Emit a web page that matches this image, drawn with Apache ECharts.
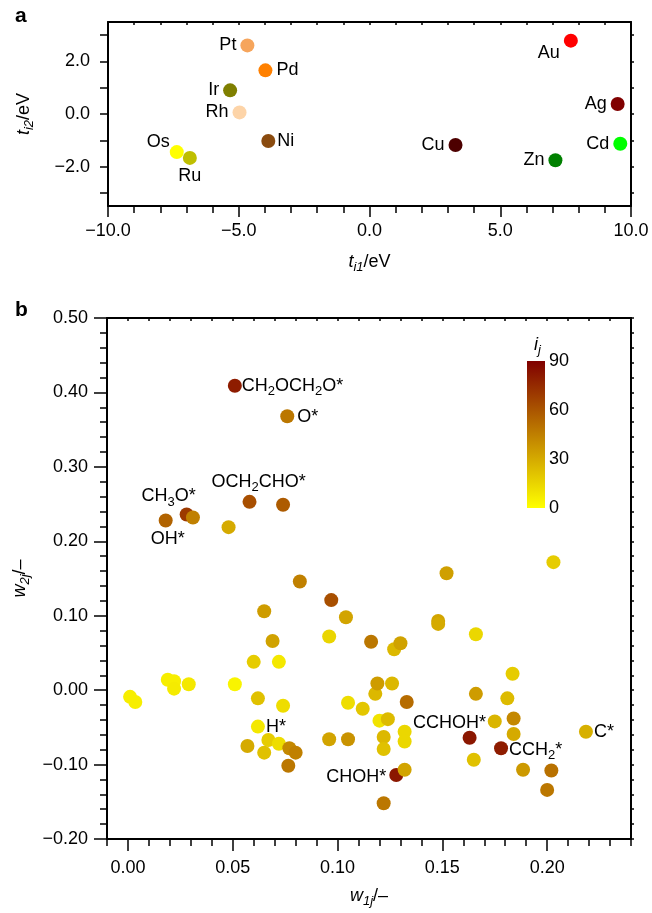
<!DOCTYPE html>
<html>
<head>
<meta charset="utf-8">
<title>t / w scatter</title>
<script src="https://cdn.jsdelivr.net/npm/echarts@6/dist/echarts.min.js"></script>
<style>
  html, body { margin: 0; padding: 0; background: #fff; }
  #main { width: 652px; height: 913px; }
</style>
</head>
<body>
<div id="main"></div>
<script>
  // ---- panel a : metals ----
  var metals = ['Pt', 'Pd', 'Ir', 'Rh', 'Ni', 'Os', 'Ru', 'Cu', 'Au', 'Ag', 'Cd', 'Zn'];
  var tI1 = [-4.67, -3.98, -5.33, -4.97, -3.87, -7.37, -6.87, 3.29, 7.70, 9.49, 9.59, 7.11];
  var tI2 = [2.61, 1.66, 0.90, 0.06, -1.03, -1.45, -1.67, -1.18, 2.79, 0.38, -1.13, -1.76];
  var metalColors = ['#f6a55c', '#ff8000', '#7f7f00', '#fdd4a8', '#8a4b0f', '#ffff00',
    '#bfbf00', '#4d0000', '#ff0000', '#800000', '#00ff00', '#008000'];

  // ---- panel b : adsorbates ----
  var w1 = [0.051, 0.076, 0.058, 0.074, 0.028, 0.031, 0.018, 0.048, 0.082, 0.097,
    0.065, 0.104, 0.096, 0.069, 0.116, 0.127, 0.130, 0.060, 0.072, 0.019,
    0.022, 0.022, 0.029, 0.051, 0.001, 0.0035, 0.062, 0.074, 0.105, 0.112,
    0.118, 0.119, 0.126, 0.120, 0.124, 0.062, 0.067, 0.072, 0.057, 0.065,
    0.077, 0.080, 0.0765, 0.096, 0.105, 0.122, 0.122, 0.128, 0.132, 0.122,
    0.203, 0.152, 0.148, 0.148, 0.166, 0.1835, 0.166, 0.181, 0.133, 0.132,
    0.132, 0.175, 0.184, 0.184, 0.163, 0.178, 0.165, 0.2185, 0.1885, 0.202, 0.200];
  var w2 = [0.409, 0.368, 0.253, 0.249, 0.236, 0.232, 0.228, 0.219, 0.146, 0.121,
    0.106, 0.098, 0.072, 0.066, 0.065, 0.055, 0.063, 0.038, 0.038, 0.014,
    0.012, 0.002, 0.008, 0.008, -0.009, -0.016, -0.011, -0.021, -0.017, -0.025,
    -0.005, 0.009, 0.009, -0.041, -0.039, -0.049, -0.067, -0.072, -0.075, -0.084,
    -0.078, -0.084, -0.1015, -0.066, -0.066, -0.063, -0.079, -0.114, -0.107, -0.152,
    0.172, 0.157, 0.093, 0.089, 0.075, 0.022, -0.005, -0.011, -0.016, -0.056,
    -0.069, -0.042, -0.038, -0.059, -0.064, -0.078, -0.0935, -0.056, -0.107, -0.108, -0.134];
  var ij = [80, 48, 62, 58, 70, 45, 55, 30, 45, 62,
    35, 32, 15, 33, 48, 25, 33, 18, 8, 6,
    6, 7, 8, 4, 6, 6, 22, 12, 12, 20,
    25, 35, 25, 10, 24, 8, 18, 12, 30, 22,
    42, 45, 48, 32, 38, 25, 22, 82, 32, 48,
    18, 34, 32, 30, 14, 18, 35, 24, 52, 14,
    14, 26, 42, 30, 82, 80, 22, 28, 36, 50, 48];
  var adsNames = { 0: 'CH2OCH2O*', 1: 'O*', 2: 'OCH2CHO*', 4: 'CH3O*', 6: 'OH*',
    35: 'H*', 47: 'CHOH*', 64: 'CCHOH*', 65: 'CCH2*', 67: 'C*' };

  var bXLabels = [0, 0.05, 0.10, 0.15, 0.20];
  var ijTicks = [0, 30, 60, 90];

  var FONT = 'Liberation Sans';
  var FS = 18;
  var BLACK = '#000';

  // label placement (style only)
  var metalPos = {
    Pt: ['left', [0, 0]], Pd: ['right', [0, 0]], Ir: ['left', [0, 0]], Rh: ['left', [0, 0]],
    Ni: ['right', [-2, 0]], Os: ['left', [4, -10]], Ru: ['bottom', [0, -2]], Cu: ['left', [0, 0]],
    Au: ['left', [0, 12]], Ag: ['left', [0, 0]], Cd: ['left', [0, 0]], Zn: ['left', [0, 0]]
  };
  var adsPos = {
    'CH2OCH2O*': ['right', [-3, 0]], 'O*': ['right', [0, 1]], 'OCH2CHO*': ['top', [9, 2]],
    'CH3O*': ['top', [-18, 4]], 'OH*': ['bottom', [2, 0]], 'H*': ['right', [-2, 0]],
    'CHOH*': ['left', [0, 2]], 'CCHOH*': ['top', [-20, 4]], 'CCH2*': ['right', [-2, 2]],
    'C*': ['right', [-2, 0]]
  };

  function minus(v, d) {
    var s = Math.abs(v).toFixed(d);
    return (v < -1e-9 ? '\u2212' : '') + s;
  }
  function subs(name) {
    return name.replace(/(\d)/g, '{s|$1}');
  }
  function steps(a, b, st) {
    var out = [];
    for (var k = 0; a + k * st <= b + 1e-9; k++) out.push(+(a + k * st).toFixed(4));
    return out;
  }

  var richBase = {
    s: { fontFamily: FONT, fontSize: 13, fontWeight: 'normal', padding: [11, 0, 0, 0], color: BLACK },
    i: { fontFamily: FONT, fontSize: FS, fontWeight: 'normal', fontStyle: 'italic', color: BLACK },
    si: { fontFamily: FONT, fontSize: 13, fontWeight: 'normal', fontStyle: 'italic', padding: [11, 0, 0, 0], color: BLACK },
    n: { fontFamily: FONT, fontSize: FS, fontWeight: 'normal', color: BLACK }
  };

  var metalData = metals.map(function (m, k) {
    var p = metalPos[m];
    return {
      value: [tI1[k], tI2[k]], name: m,
      itemStyle: { color: metalColors[k], opacity: 1 },
      label: { show: true, position: p[0], offset: p[1], distance: 4, formatter: m }
    };
  });

  var adsData = w1.map(function (x, k) {
    var item = { value: [x, w2[k], ij[k]] };
    var nm = adsNames[k];
    if (nm) {
      var p = adsPos[nm];
      item.label = { show: true, position: p[0], offset: p[1], distance: 3, formatter: subs(nm) };
    }
    return item;
  });

  var axisLine = { show: true, onZero: false, lineStyle: { color: BLACK, width: 2 } };
  var tickStyle = { color: BLACK, width: 1.5 };
  var lblStyle = { color: BLACK, fontFamily: FONT, fontSize: FS };

  var chart = echarts.init(document.getElementById('main'));
  chart.setOption({
    animation: false,
    backgroundColor: '#fff',
    textStyle: { fontFamily: FONT },
    title: [
      { text: 'a', left: 10, top: 1, textStyle: { fontFamily: FONT, fontSize: 21, fontWeight: 'bold', color: BLACK } },
      { text: 'b', left: 10, top: 295, textStyle: { fontFamily: FONT, fontSize: 21, fontWeight: 'bold', color: BLACK } },
      { text: '{i|i}{si|j}', left: 529, top: 328, textStyle: { fontWeight: 'normal', rich: richBase } }
    ],
    grid: [
      { left: 108, top: 22, width: 523, height: 184 },
      { left: 107, top: 318, width: 524, height: 524 },
      { left: 527, top: 361, width: 18, height: 147 }
    ],
    visualMap: {
      show: false, type: 'continuous', seriesIndex: 1, dimension: 2, min: 0, max: 90,
      inRange: { color: ['#ffff00', '#800000'] }
    },
    xAxis: [
      { // a bottom
        gridIndex: 0, type: 'value', position: 'bottom', min: -10, max: 10, interval: 5,
        axisLine: axisLine, splitLine: { show: false },
        axisTick: { show: true, length: 11, lineStyle: tickStyle },
        minorTick: { show: true, splitNumber: 5, length: 7, lineStyle: tickStyle },
        axisLabel: Object.assign({ margin: 16, formatter: function (v) { return minus(v, 1); } }, lblStyle),
        name: '{i|t}{si|i1}{n|/eV}', nameLocation: 'middle', nameGap: 44,
        nameTextStyle: { rich: richBase }
      },
      { // a top
        gridIndex: 0, type: 'value', position: 'top', min: -10, max: 10, interval: 1,
        axisLine: axisLine, splitLine: { show: false }, axisLabel: { show: false },
        axisTick: { show: true, inside: true, length: 3, lineStyle: tickStyle }
      },
      { // b bottom, labels + major ticks
        gridIndex: 1, type: 'value', position: 'bottom', min: -0.01, max: 0.24,
        axisLine: axisLine, splitLine: { show: false },
        axisTick: { show: true, length: 12, customValues: bXLabels, lineStyle: tickStyle },
        axisLabel: Object.assign({ margin: 20, customValues: bXLabels, formatter: function (v) { return minus(v, 2); } }, lblStyle),
        name: '{i|w}{si|1j}{n|/\u2013}', nameLocation: 'middle', nameGap: 45,
        nameTextStyle: { rich: richBase }
      },
      { // b bottom, minor ticks
        gridIndex: 1, type: 'value', position: 'bottom', min: -0.01, max: 0.24,
        axisLine: { show: false, onZero: false }, splitLine: { show: false }, axisLabel: { show: false },
        axisTick: { show: true, length: 7, customValues: steps(-0.01, 0.24, 0.01), lineStyle: tickStyle }
      },
      { // b top
        gridIndex: 1, type: 'value', position: 'top', min: -0.01, max: 0.24,
        axisLine: axisLine, splitLine: { show: false }, axisLabel: { show: false },
        axisTick: { show: true, inside: true, length: 3, customValues: steps(-0.01, 0.24, 0.01), lineStyle: tickStyle }
      },
      { // colorbar
        gridIndex: 2, type: 'category', data: [''], show: false
      }
    ],
    yAxis: [
      { // a left
        gridIndex: 0, type: 'value', position: 'left', min: -3.5, max: 3.5,
        axisLine: axisLine, splitLine: { show: false },
        axisTick: { show: true, length: 8, customValues: steps(-3, 3, 1), lineStyle: tickStyle },
        axisLabel: Object.assign({ margin: 18, customValues: [-2, 0, 2], formatter: function (v) { return minus(v, 1); } }, lblStyle),
        name: '{i|t}{si|i2}{n|/eV}', nameLocation: 'middle', nameGap: 72, nameRotate: 90,
        nameTextStyle: { rich: richBase }
      },
      { // a right
        gridIndex: 0, type: 'value', position: 'right', min: -3.5, max: 3.5,
        axisLine: axisLine, splitLine: { show: false }, axisLabel: { show: false },
        axisTick: { show: true, length: 3, customValues: steps(-3, 3, 1), lineStyle: tickStyle }
      },
      { // b left
        gridIndex: 1, type: 'value', position: 'left', min: -0.2, max: 0.5, interval: 0.1,
        axisLine: axisLine, splitLine: { show: false },
        axisTick: { show: true, length: 13, lineStyle: tickStyle },
        minorTick: { show: true, splitNumber: 5, length: 7, lineStyle: tickStyle },
        axisLabel: Object.assign({ margin: 19, formatter: function (v) { return minus(v, 2); } }, lblStyle),
        name: '{i|w}{si|2j}{n|/\u2013}', nameLocation: 'middle', nameGap: 74, nameRotate: 90,
        nameTextStyle: { rich: richBase }
      },
      { // b right
        gridIndex: 1, type: 'value', position: 'right', min: -0.2, max: 0.5, interval: 0.02,
        axisLine: axisLine, splitLine: { show: false }, axisLabel: { show: false },
        axisTick: { show: true, length: 3, lineStyle: tickStyle }
      },
      { // colorbar scale
        gridIndex: 2, type: 'value', position: 'right', min: 0, max: 90, interval: 30,
        axisLine: { show: false, onZero: false }, axisTick: { show: false }, splitLine: { show: false },
        axisLabel: Object.assign({ margin: 4 }, lblStyle)
      }
    ],
    series: [
      {
        type: 'scatter', xAxisIndex: 0, yAxisIndex: 0, symbolSize: 14,
        data: metalData,
        label: { color: BLACK, fontFamily: FONT, fontSize: FS }
      },
      {
        type: 'scatter', xAxisIndex: 2, yAxisIndex: 2, symbolSize: 14,
        itemStyle: { opacity: 1 },
        data: adsData,
        label: { color: BLACK, fontFamily: FONT, fontSize: FS, rich: richBase }
      },
      {
        type: 'bar', xAxisIndex: 5, yAxisIndex: 4, barWidth: '100%',
        data: ijTicks.slice(-1),
        itemStyle: {
          color: new echarts.graphic.LinearGradient(0, 0, 0, 1, [
            { offset: 0, color: '#800000' }, { offset: 1, color: '#ffff00' }
          ])
        }
      }
    ]
  });
</script>
</body>
</html>
